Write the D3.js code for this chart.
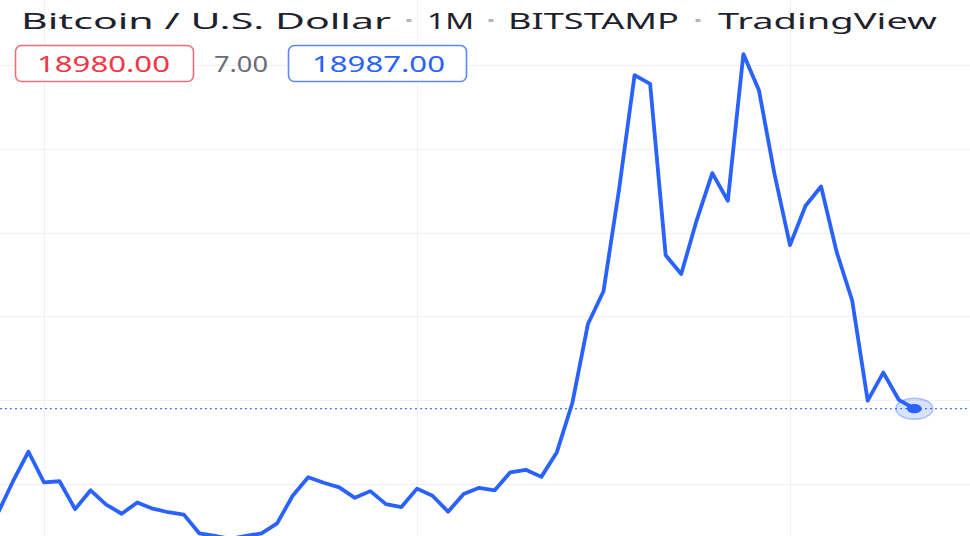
<!DOCTYPE html>
<html>
<head>
<meta charset="utf-8">
<script src="https://cdn.jsdelivr.net/npm/d3@7"></script>
<style>
  html, body { margin: 0; padding: 0; background: #ffffff; }
  svg { display: block; }
</style>
</head>
<body>
<svg id="chart" width="970" height="536"></svg>
<script>
// ---- data ----
const months = [
  "2017-10","2017-11","2017-12",
  "2018-01","2018-02","2018-03","2018-04","2018-05","2018-06","2018-07","2018-08","2018-09","2018-10","2018-11","2018-12",
  "2019-01","2019-02","2019-03","2019-04","2019-05","2019-06","2019-07","2019-08","2019-09","2019-10","2019-11","2019-12",
  "2020-01","2020-02","2020-03","2020-04","2020-05","2020-06","2020-07","2020-08","2020-09","2020-10","2020-11","2020-12",
  "2021-01","2021-02","2021-03","2021-04","2021-05","2021-06","2021-07","2021-08","2021-09","2021-10","2021-11","2021-12",
  "2022-01","2022-02","2022-03","2022-04","2022-05","2022-06","2022-07","2022-08","2022-09"
];
const closes = [
  6400, 10300, 13850,
  10200, 10330, 7000, 9250, 7550, 6450, 7800, 7050, 6630, 6350, 4100, 3800,
  3450, 3820, 4100, 5300, 8600, 10800, 10150, 9600, 8350, 9150, 7600, 7250,
  9450, 8600, 6700, 8800, 9550, 9250, 11400, 11700, 10850, 13800, 19700, 29100,
  33000, 45150, 58800, 57750, 37300, 35050, 41500, 47100, 43800, 61300, 57000, 47000,
  38500, 43200, 45500, 37700, 31900, 19950, 23300, 20050, 18987
];
const priceGrid = [0, 10000, 20000, 30000, 40000, 50000, 60000, 70000];
const timeGrid = ["2018-01", "2020-01", "2022-01"];
const titleParts = ["Bitcoin / U.S. Dollar", "1M", "BITSTAMP", "TradingView"];
const openLabel = "18980.00";
const changeLabel = "7.00";
const closeLabel = "18987.00";
const lastPrice = 18987;

// ---- setup ----
const W = 970, H = 536;
const svg = d3.select("#chart");
const idx = m => months.indexOf(m);

const x = d3.scaleLinear()
  .domain([idx("2018-01"), idx("2022-01")])
  .range([44, 790]);
const y = d3.scaleLinear()
  .domain([10000, 60000])
  .range([484, 65]);

const gridColor = "#eff1f4";
const blue = "#2962ff";

// grid
const grid = svg.append("g");
grid.selectAll("line.h").data(priceGrid).join("line")
  .attr("class", "h")
  .attr("x1", 0).attr("x2", W)
  .attr("y1", d => Math.round(y(d)) + 0.5).attr("y2", d => Math.round(y(d)) + 0.5)
  .attr("stroke", gridColor).attr("stroke-width", 1);
grid.selectAll("line.v").data(timeGrid).join("line")
  .attr("class", "v")
  .attr("y1", 0).attr("y2", H)
  .attr("x1", d => Math.round(x(idx(d))) + 0.5).attr("x2", d => Math.round(x(idx(d))) + 0.5)
  .attr("stroke", gridColor).attr("stroke-width", 1);

// last price dotted line
svg.append("line")
  .attr("x1", 0).attr("x2", W)
  .attr("y1", y(lastPrice)).attr("y2", y(lastPrice))
  .attr("stroke", blue).attr("stroke-opacity", 0.85)
  .attr("stroke-width", 1.2)
  .attr("stroke-dasharray", "2,3");

// clip
svg.append("clipPath").attr("id", "clip")
  .append("rect").attr("x", 0).attr("y", 0).attr("width", W).attr("height", H);

const line = d3.line()
  .x((d, i) => x(i))
  .y(d => y(d));

svg.append("path")
  .datum(closes)
  .attr("clip-path", "url(#clip)")
  .attr("d", line)
  .attr("fill", "none")
  .attr("stroke", blue)
  .attr("stroke-width", 3.8)
  .attr("stroke-linejoin", "round")
  .attr("stroke-linecap", "round");

// end marker
const lx = x(closes.length - 1), ly = y(closes[closes.length - 1]);
svg.append("ellipse")
  .attr("cx", lx).attr("cy", ly).attr("rx", 18.5).attr("ry", 10.5)
  .attr("fill", blue).attr("fill-opacity", 0.18)
  .attr("stroke", blue).attr("stroke-opacity", 0.35).attr("stroke-width", 1.5);
svg.append("ellipse")
  .attr("cx", lx).attr("cy", ly).attr("rx", 7.5).attr("ry", 4.6)
  .attr("fill", blue);

// title
const fontFam = "'Noto Sans', 'DejaVu Sans', sans-serif";
const titleSpans = [
  { t: titleParts[0], x0: 21, x1: 391 },
  { t: titleParts[1], x0: 427, x1: 474 },
  { t: titleParts[2], x0: 508, x1: 679 },
  { t: titleParts[3], x0: 718, x1: 937 }
];
const sepX = [409, 491, 698];
const tg = svg.append("g");
tg.selectAll("text.title").data(titleSpans).join("text")
  .attr("class", "title")
  .attr("x", d => d.x0).attr("y", 29)
  .attr("textLength", d => d.x1 - d.x0)
  .attr("lengthAdjust", "spacingAndGlyphs")
  .attr("font-family", fontFam)
  .attr("font-size", 22.5)
  .attr("fill", "#1e222d")
  .text(d => d.t);
tg.selectAll("rect.sep").data(sepX).join("rect")
  .attr("class", "sep")
  .attr("x", d => d - 2.5).attr("y", 19).attr("width", 5).attr("height", 3)
  .attr("fill", "#b2b5be");

// value labels
const lg = svg.append("g");
const boxes = [
  { label: openLabel, x0: 15, x1: 193, stroke: "#f26d78", fill: "#f23645", tx0: 37, tx1: 170 },
  { label: closeLabel, x0: 288, x1: 466, stroke: "#5c87ff", fill: "#2962ff", tx0: 312, tx1: 445 }
];
lg.selectAll("rect.box").data(boxes).join("rect")
  .attr("class", "box")
  .attr("x", d => d.x0 + 0.5).attr("y", 45.5)
  .attr("width", d => d.x1 - d.x0).attr("height", 36)
  .attr("rx", 6).attr("ry", 6)
  .attr("fill", "#ffffff")
  .attr("stroke", d => d.stroke).attr("stroke-width", 1.6);
lg.selectAll("text.val").data(boxes).join("text")
  .attr("class", "val")
  .attr("x", d => d.tx0).attr("y", 72)
  .attr("textLength", d => d.tx1 - d.tx0)
  .attr("lengthAdjust", "spacingAndGlyphs")
  .attr("font-family", fontFam)
  .attr("font-size", 21.5)
  .attr("fill", d => d.fill)
  .text(d => d.label);
lg.append("text")
  .attr("x", 214).attr("y", 72)
  .attr("textLength", 54)
  .attr("lengthAdjust", "spacingAndGlyphs")
  .attr("font-family", fontFam)
  .attr("font-size", 21.5)
  .attr("fill", "#6a6d78")
  .text(changeLabel);
</script>
</body>
</html>
